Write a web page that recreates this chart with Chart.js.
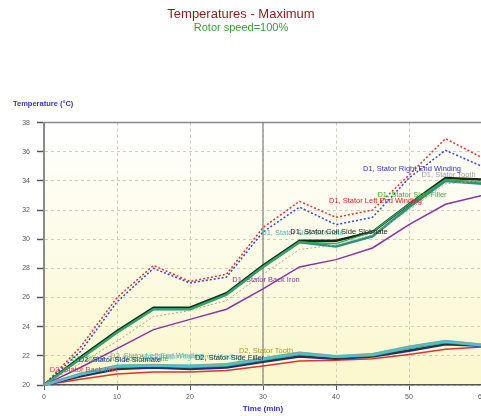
<!DOCTYPE html>
<html>
<head>
<meta charset="utf-8">
<script src="https://cdn.jsdelivr.net/npm/chart.js@4"></script>
<style>
  html, body { margin: 0; padding: 0; background: #fff; overflow: hidden; }
  canvas { display: block; }
</style>
</head>
<body>
<canvas id="temps" width="526" height="416"></canvas>
<script>
// time axis (min)
var times = [0, 5, 10, 15, 20, 25, 30, 35, 40, 45, 50, 55, 60];

// D1 sensors
var d1LeftEnd   = [20, 22.6, 26.0, 28.2, 27.1, 27.6, 30.8, 32.6, 31.5, 32.0, 34.4, 36.9, 35.6];
var d1RightEnd  = [20, 22.3, 25.7, 28.0, 27.0, 27.4, 30.5, 32.2, 31.0, 31.5, 34.2, 36.1, 35.0];
var d1Tooth     = [20, 21.5, 23.0, 24.7, 25.1, 25.8, 27.6, 29.3, 29.6, 30.3, 32.0, 33.8, 34.0];
var d1SideFill  = [20, 21.8, 23.6, 25.2, 25.2, 26.2, 28.1, 29.8, 29.7, 30.5, 32.4, 34.1, 33.9];
var d1CoilSlot  = [20, 21.9, 23.7, 25.3, 25.3, 26.3, 28.2, 29.9, 29.9, 30.5, 32.4, 34.2, 34.1];
var d1SideSlot  = [20, 21.8, 23.6, 25.2, 25.2, 26.2, 28.1, 29.8, 29.5, 30.2, 32.2, 34.0, 33.8];
var d1BackIron  = [20, 21.2, 22.5, 23.8, 24.5, 25.2, 26.6, 28.1, 28.6, 29.4, 31.0, 32.4, 33.0];

// D2 sensors
var d2LeftEnd   = [20, 20.8, 21.35, 21.4, 21.35, 21.45, 21.85, 22.25, 22.0, 22.15, 22.65, 23.05, 22.8];
var d2RightEnd  = [20, 20.75, 21.3, 21.35, 21.3, 21.4, 21.8, 22.2, 21.95, 22.1, 22.6, 23.0, 22.75];
var d2Tooth     = [20, 20.7, 21.25, 21.3, 21.25, 21.35, 21.75, 22.15, 21.9, 22.05, 22.55, 22.95, 22.75];
var d2CoilSlot  = [20, 20.7, 21.2, 21.3, 21.2, 21.3, 21.7, 22.1, 21.9, 22.0, 22.5, 22.9, 22.7];
var d2SideFill  = [20, 20.6, 21.1, 21.2, 21.15, 21.25, 21.6, 22.0, 21.8, 21.95, 22.4, 22.8, 22.7];
var d2SideSlot  = [20, 20.6, 21.1, 21.2, 21.1, 21.2, 21.6, 21.95, 21.8, 21.95, 22.35, 22.8, 22.7];
var d2BackIron  = [20, 20.4, 20.75, 20.9, 20.9, 21.0, 21.3, 21.65, 21.7, 21.8, 22.1, 22.45, 22.6];

var markerTime = 30;

var FONT = 'Arial, "Liberation Sans", sans-serif';

function pts(vals) {
  return times.map(function(t, i) { return {x: t, y: vals[i]}; });
}

function series(label, vals, color, width, dash, labelAt, labelColor) {
  return {
    label: label,
    data: pts(vals),
    borderColor: color,
    borderWidth: width,
    borderDash: dash || [],
    pointRadius: 0,
    tension: 0,
    fill: false,
    labelAt: labelAt,
    labelColor: labelColor || color
  };
}

var datasets = [
  series("D2, Stator Left End Winding", d2LeftEnd, "#9a9a9a", 1, null, 15, "#9a9a9a"),
  series("D2, Stator Right End Winding", d2RightEnd, "#40c8d0", 3, null, 20, "#5cd0d0"),
  series("D2, Stator Tooth", d2Tooth, "#a89a40", 1, null, 30, "#a89a30"),
  series("D2, Stator Coil Side Slotmate", d2CoilSlot, "#3aa060", 1.5, null, 10, "#5ab070"),
  series("D2, Stator Side Filler", d2SideFill, "#333333", 1, null, 25, "#333333"),
  series("D2, Stator Side Slotmate", d2SideSlot, "#1a2aa0", 2.5, null, 10, "#2233aa"),
  series("D2, Stator Back Iron", d2BackIron, "#dd3333", 1.5, null, 5, "#dd4444"),

  series("D1, Stator Back Iron", d1BackIron, "#8833aa", 1.5, null, 30, "#8a3a9a"),
  series("D1, Stator Tooth", d1Tooth, "#a8a890", 1, [2, 2], 55, "#a0a0a0"),
  series("D1, Stator Side Filler", d1SideFill, "#33aa55", 1.5, null, 50, "#44aa33"),
  series("D1, Stator Side Slotmate", d1SideSlot, "#2a9080", 2.5, null, 35, "#5ab0b0"),
  series("D1, Stator Coil Side Slotmate", d1CoilSlot, "#1a2a1a", 2.5, null, 40, "#222222"),
  series("D1, Stator Right End Winding", d1RightEnd, "#3344dd", 1.5, [2, 2], 50, "#3333cc"),
  series("D1, Stator Left End Winding", d1LeftEnd, "#dd3333", 1.5, [2, 2], 45, "#dd2222")
];

// plot background, top border, cursor line, y title
var plotDecor = {
  id: 'plotDecor',
  beforeDraw: function(chart) {
    var a = chart.chartArea, ctx = chart.ctx;
    var g = ctx.createLinearGradient(0, a.top, 0, a.bottom);
    g.addColorStop(0, '#ffffff');
    g.addColorStop(1, '#faf7cc');
    ctx.save();
    ctx.fillStyle = g;
    ctx.fillRect(a.left, a.top, a.right - a.left, a.bottom - a.top);
    ctx.font = 'bold 7.5px ' + FONT;
    ctx.fillStyle = '#3333bb';
    ctx.textBaseline = 'middle';
    ctx.fillText('Temperature (\u00B0C)', 13, 104);
    ctx.restore();
  },
  beforeDatasetsDraw: function(chart) {
    var a = chart.chartArea, ctx = chart.ctx;
    var x = chart.scales.x.getPixelForValue(markerTime);
    ctx.save();
    ctx.strokeStyle = '#999999';
    ctx.lineWidth = 1.5;
    ctx.beginPath();
    ctx.moveTo(x, a.top);
    ctx.lineTo(x, a.bottom);
    ctx.stroke();
    ctx.strokeStyle = '#888888';
    ctx.beginPath();
    ctx.moveTo(a.left, a.top);
    ctx.lineTo(a.right, a.top);
    ctx.stroke();
    ctx.restore();
  },
  afterDatasetsDraw: function(chart) {
    var ctx = chart.ctx;
    ctx.save();
    ctx.font = '7.5px ' + FONT;
    ctx.textAlign = 'center';
    ctx.textBaseline = 'middle';
    chart.data.datasets.forEach(function(ds) {
      var i = times.indexOf(ds.labelAt);
      if (i < 0) return;
      var px = chart.scales.x.getPixelForValue(ds.data[i].x);
      var py = chart.scales.y.getPixelForValue(ds.data[i].y);
      ctx.fillStyle = ds.labelColor;
      ctx.fillText(ds.label, px + 3, py - 9);
    });
    ctx.restore();
  }
};

var ctx = document.getElementById("temps").getContext("2d");
new Chart(ctx, {
  type: 'line',
  data: { datasets: datasets },
  plugins: [plotDecor],
  options: {
    responsive: false,
    animation: false,
    devicePixelRatio: 1,
    layout: { padding: { left: 0, right: 44, top: 0, bottom: 0 } },
    plugins: {
      legend: { display: false },
      tooltip: { enabled: false },
      title: {
        display: true,
        text: 'Temperatures - Maximum',
        color: '#8b1a1a',
        font: { family: FONT, size: 13, weight: 'normal', lineHeight: 1.2 },
        padding: { top: 7, bottom: 0 }
      },
      subtitle: {
        display: true,
        text: 'Rotor speed=100%',
        color: '#3a9a3a',
        font: { family: FONT, size: 11, weight: 'normal', lineHeight: 1 },
        padding: { top: 0, bottom: 89 }
      }
    },
    scales: {
      x: {
        type: 'linear',
        min: 0,
        max: 60,
        ticks: { stepSize: 10, color: '#555', font: { family: FONT, size: 7 }, padding: 3, maxRotation: 0 },
        grid: { color: '#cfcdb8', tickColor: '#555', tickLength: 5, tickWidth: 1 },
        border: { color: '#555', width: 1.5, dash: [3, 3] },
        title: {
          display: true,
          text: 'Time (min)',
          color: '#3333bb',
          font: { family: FONT, size: 8, weight: 'bold', lineHeight: 1.2 },
          padding: { top: 3, bottom: 2 }
        },
        afterFit: function(scale) { scale.height = 31; }
      },
      y: {
        min: 20,
        max: 38,
        ticks: { stepSize: 2, color: '#555', font: { family: FONT, size: 7 }, padding: 7 },
        grid: { color: '#cfcdb8', tickColor: '#555', tickLength: 7, tickWidth: 1.5 },
        border: { color: '#8a8a8a', width: 2, dash: [3, 3] },
        afterFit: function(scale) { scale.width = 44; }
      }
    }
  }
});
</script>
</body>
</html>
